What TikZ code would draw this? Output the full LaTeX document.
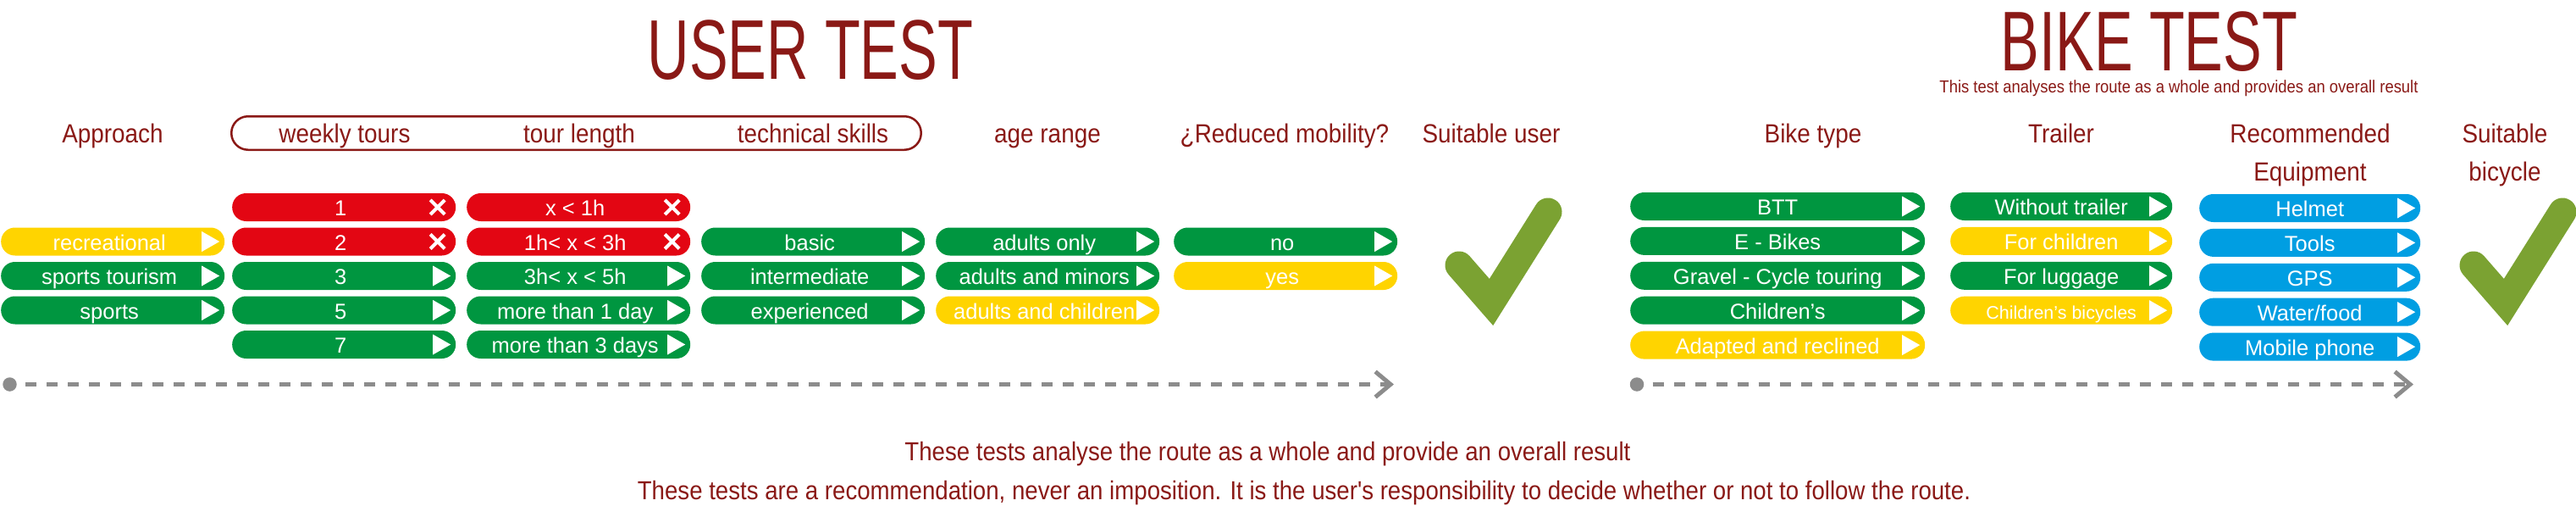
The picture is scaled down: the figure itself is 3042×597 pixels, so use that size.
\documentclass[tikz,border=0pt]{standalone}
\usepackage{fontspec}
\setmainfont{Liberation Sans}
\newfontfamily\condfont[FakeStretch=0.9]{Liberation Sans}
\newfontfamily\ttlfont[FakeStretch=0.685]{Liberation Sans}
\usepackage{tikz}
\usetikzlibrary{arrows.meta}
\definecolor{tred}{RGB}{138,25,22}
\definecolor{pred}{RGB}{227,6,19}
\definecolor{pgreen}{RGB}{0,150,64}
\definecolor{pyellow}{RGB}{255,212,0}
\definecolor{pblue}{RGB}{0,158,226}
\definecolor{tick}{RGB}{123,162,50}
\definecolor{dline}{RGB}{140,140,140}
\newcommand{\pillfont}{\fontsize{25.5}{25.5}\selectfont}
\newcommand{\smallpill}{\fontsize{21.5}{21.5}\selectfont}
\newcommand{\hdfont}{\condfont\fontsize{31}{45}\selectfont}
\newcommand{\bigttl}{\ttlfont\fontsize{100}{100}\selectfont}
\newcommand{\subfont}{\condfont\fontsize{20.5}{20.5}\selectfont}
\newcommand{\ftfont}{\condfont\fontsize{30.7}{30.7}\selectfont}
\tikzstyle{pill} = [rounded corners=16.4pt, minimum width=264pt, minimum height=33pt, inner sep=0pt, text=white, font=\pillfont, text height=20pt, text depth=0pt]
\tikzstyle{okarrow} = [path picture={\fill[white, sharp corners] ([xshift=-6pt]path picture bounding box.east) -- ([xshift=-27pt,yshift=12pt]path picture bounding box.east) -- ([xshift=-27pt,yshift=-12pt]path picture bounding box.east) -- cycle;}]
\tikzstyle{nocross} = [path picture={\draw[white, sharp corners, line width=4pt] ([xshift=-30pt,yshift=8.5pt]path picture bounding box.east) -- ([xshift=-13pt,yshift=-8.5pt]path picture bounding box.east) ([xshift=-30pt,yshift=-8.5pt]path picture bounding box.east) -- ([xshift=-13pt,yshift=8.5pt]path picture bounding box.east);}]
\tikzstyle{rpill} = [pill, fill=pred, nocross]
\tikzstyle{gpill} = [pill, fill=pgreen, okarrow]
\tikzstyle{ypill} = [pill, fill=pyellow, okarrow]
\tikzstyle{bpill} = [pill, fill=pblue, okarrow]
\tikzstyle{hd} = [text=tred, font=\hdfont, anchor=base, inner sep=0pt, align=center]
\tikzstyle{note} = [text=tred, anchor=base, inner sep=0pt]
\tikzstyle{dot} = [circle, fill=dline, minimum size=16.5pt, inner sep=0pt]
\tikzstyle{timeline} = [draw=dline, line width=4.3pt, dash pattern=on 13pt off 12pt, dash phase=14.75pt, -{Straight Barb[length=18pt,width=30pt,line width=5pt]}]
\begin{document}
\begin{tikzpicture}[x=1pt,y=-1pt]
	\useasboundingbox (0,0) rectangle (3042,597);
	\node[note, font=\bigttl] (usertest) at (957,93) {USER TEST};
	\node[note, font=\bigttl] (biketest) at (2538,83) {BIKE TEST};
	\node[note, font=\subfont] (bikenote) at (2573,109) {This test analyses the route as a whole and provides an overall result};

	\draw[tred, line width=2.5pt, rounded corners=19.7pt] (273.25,137.25) rectangle (1087.75,176.75);
	\node[hd] (happ) at (133,168) {Approach};
	\node[hd] (hweek) at (407,168) {weekly tours};
	\node[hd] (hlen) at (684,168) {tour length};
	\node[hd] (hskill) at (960,168) {technical skills};
	\node[hd] (hage) at (1237,168) {age range};
	\node[hd] (hmob) at (1517,168) {¿Reduced mobility?};
	\node[hd] (huser) at (1761,168) {Suitable user};
	\node[hd] (htype) at (2141,168) {Bike type};
	\node[hd] (htrail) at (2434,168) {Trailer};
	\node[hd] (hequip) at (2728,213) {Recommended\\Equipment};
	\node[hd] (hbike) at (2958,213) {Suitable\\bicycle};

	\begin{scope}[execute at end node={\hspace*{8pt}}]
		\foreach \t/\s [count=\i] in {recreational/ypill, sports tourism/gpill, sports/gpill}
			\node[\s, anchor=west] (ap\i) at (1,{285+40.5*(\i-1)}) {\t};
		\foreach \t/\s [count=\i] in {1/rpill, 2/rpill, 3/gpill, 5/gpill, 7/gpill}
			\node[\s, anchor=west] (wk\i) at (274,{244.5+40.5*(\i-1)}) {\t};
		\foreach \t/\s [count=\i] in {x < 1h/rpill, 1h< x < 3h/rpill, 3h< x < 5h/gpill, more than 1 day/gpill, more than 3 days/gpill}
			\node[\s, anchor=west] (tl\i) at (551,{244.5+40.5*(\i-1)}) {\t};
		\foreach \t/\s [count=\i] in {basic/gpill, intermediate/gpill, experienced/gpill}
			\node[\s, anchor=west] (sk\i) at (828,{285+40.5*(\i-1)}) {\t};
		\foreach \t/\s [count=\i] in {adults only/gpill, adults and minors/gpill, adults and children/ypill}
			\node[\s, anchor=west] (ag\i) at (1105,{285+40.5*(\i-1)}) {\t};
		\foreach \t/\s [count=\i] in {no/gpill, yes/ypill}
			\node[\s, anchor=west] (rm\i) at (1386,{285+40.5*(\i-1)}) {\t};
	\end{scope}

	\foreach \t/\s [count=\i] in {BTT/gpill, E - Bikes/gpill, Gravel - Cycle touring/gpill, Children's/gpill, Adapted and reclined/ypill}
		\node[\s, anchor=west, minimum width=348pt] (bt\i) at (1925,{243.5+40.9*(\i-1)}) {\t};
	\foreach \t/\s [count=\i] in {Without trailer/gpill, For children/ypill, For luggage/gpill, {\smallpill Children's bicycles}/ypill}
		\node[\s, anchor=west, minimum width=262pt] (tr\i) at (2303,{243.5+40.9*(\i-1)}) {\t};
	\foreach \t [count=\i] in {Helmet, Tools, GPS, {Water/food}, Mobile phone}
		\node[bpill, anchor=west, minimum width=261pt] (eq\i) at (2597,{245.5+40.9*(\i-1)}) {\t};

	\draw[tick, line width=33pt, line cap=round, line join=miter] (1723,313) -- (1761,356.5) -- (1828,250);
	\draw[tick, line width=33pt, line cap=round, line join=miter] (2921,313) -- (2959,356.5) -- (3026,250);

	\node[dot] (ustart) at (11.5,453.5) {};
	\coordinate (uend) at (1646,453.5);
	\draw[timeline] (ustart) -- (uend);
	\node[dot] (bstart) at (1933,453.5) {};
	\coordinate (bend) at (2850,453.5);
	\draw[timeline] (bstart) -- (bend);

	\node[note, font=\ftfont] (note1) at (1497,543) {These tests analyse the route as a whole and provide an overall result};
	\node[note, font=\ftfont] (note2) at (1540,589) {These tests are a recommendation, never an imposition. It is the user's responsibility to decide whether or not to follow the route.};
\end{tikzpicture}
\end{document}
